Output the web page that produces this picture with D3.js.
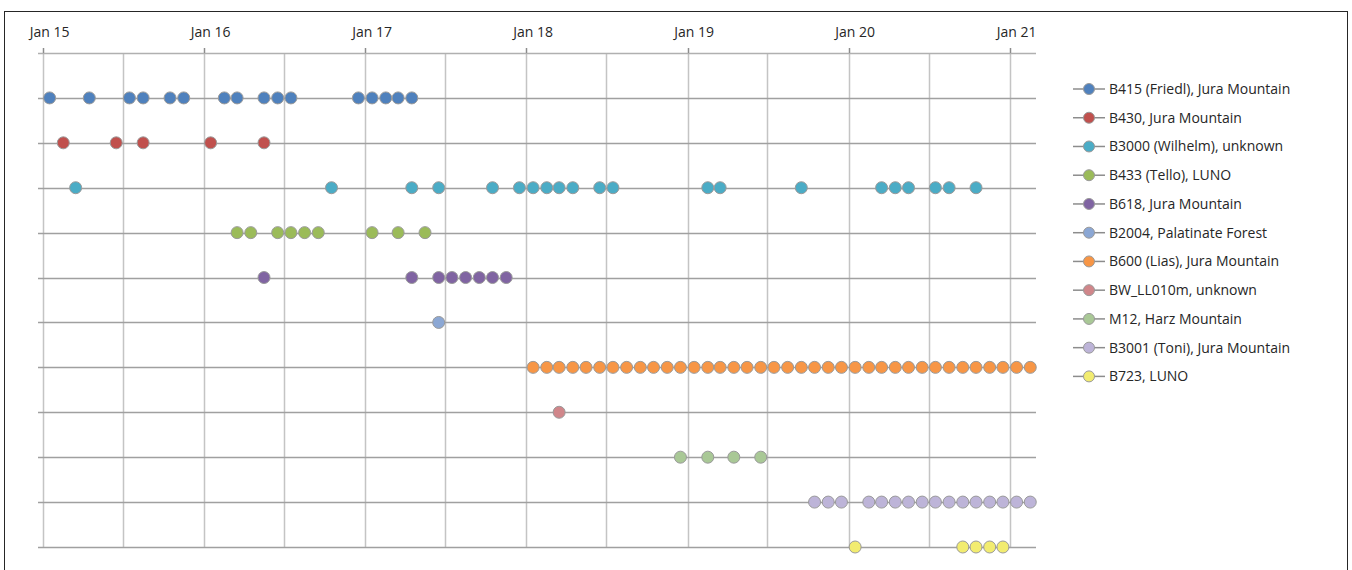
<!DOCTYPE html>
<html lang="en">
<head>
    <meta charset="UTF-8">
    <title>Sampling timeline</title>
    <style>
        body { margin:0; background:#fff; }
        text { font-family: 'Open Sans', 'Lato', sans-serif; fill:#262626; }
        .tick_label { font-size:14px; }
        .legend_label { font-size:14px; }
        .frame { fill:none; stroke:#262626; stroke-width:1px; }
    </style>
    <script src="https://d3js.org/d3.v7.min.js"></script>
</head>
<body>

<script>

// series names, top row first
var series_names = [
    "B415 (Friedl), Jura Mountain",
    "B430, Jura Mountain",
    "B3000 (Wilhelm), unknown",
    "B433 (Tello), LUNO",
    "B618, Jura Mountain",
    "B2004, Palatinate Forest",
    "B600 (Lias), Jura Mountain",
    "BW_LL010m, unknown",
    "M12, Harz Mountain",
    "B3001 (Toni), Jura Mountain",
    "B723, LUNO"
];

var series_colors = ["#4f81bd", "#c0504d", "#4bacc6", "#9bbb59", "#8064a2", "#8ba7d4",
                     "#f79646", "#d0868a", "#a9c896", "#bdb4d8", "#f2ec70"];

// sampled months per series
var b415 = ["2015-01","2015-04","2015-07","2015-08","2015-10","2015-11","2016-02","2016-03","2016-05","2016-06",
            "2016-07","2016-12","2017-01","2017-02","2017-03","2017-04"];
var b430 = ["2015-02","2015-06","2015-08","2016-01","2016-05"];
var b3000 = ["2015-03","2016-10","2017-04","2017-06","2017-10","2017-12","2018-01","2018-02","2018-03","2018-04",
             "2018-06","2018-07","2019-02","2019-03","2019-09","2020-03","2020-04","2020-05","2020-07","2020-08","2020-10"];
var b433 = ["2016-03","2016-04","2016-06","2016-07","2016-08","2016-09","2017-01","2017-03","2017-05"];
var b618 = ["2016-05","2017-04","2017-06","2017-07","2017-08","2017-09","2017-10","2017-11"];
var b2004 = ["2017-06"];
var b600 = ["2018-01","2018-02","2018-03","2018-04","2018-05","2018-06","2018-07","2018-08","2018-09","2018-10","2018-11","2018-12",
            "2019-01","2019-02","2019-03","2019-04","2019-05","2019-06","2019-07","2019-08","2019-09","2019-10","2019-11","2019-12",
            "2020-01","2020-02","2020-03","2020-04","2020-05","2020-06","2020-07","2020-08","2020-09","2020-10","2020-11","2020-12",
            "2021-01","2021-02"];
var bw_ll010m = ["2018-03"];
var m12 = ["2018-12","2019-02","2019-04","2019-06"];
var b3001 = ["2019-10","2019-11","2019-12","2020-02","2020-03","2020-04","2020-05","2020-06","2020-07","2020-08",
             "2020-09","2020-10","2020-11","2020-12","2021-01","2021-02"];
var b723 = ["2020-01","2020-09","2020-10","2020-11","2020-12"];

var series_months = [b415, b430, b3000, b433, b618, b2004, b600, bw_ll010m, m12, b3001, b723];

var axis_start = "2015-01";
var axis_end = "2021-03";

var window_width = 1352;
var window_height = 570;

var parseMonth = d3.timeParse("%Y-%m");
// a month is drawn in the middle of its slot
function midMonth(s) {
    var d = parseMonth(s);
    return new Date(d.getFullYear(), d.getMonth(), 16);
}

var svg = d3.select("body").append("svg").attr("width", window_width).attr("height", window_height);

svg.append("rect").attr("class", "frame")
   .attr("x", 4.5).attr("y", 11.5).attr("width", 1343).attr("height", 580);

var xScale = d3.scaleTime().domain([parseMonth(axis_start), parseMonth(axis_end)]).range([43, 1036]);
var yScale = d3.scaleLinear().domain([-1, series_names.length - 1]).range([53, 547]);

var grid = svg.append("g");

// vertical grid every six months
var half_years = d3.timeMonth.every(6).range(parseMonth(axis_start), parseMonth(axis_end));
grid.selectAll("line.vgrid").data(half_years).enter().append("line")
    .attr("x1", function(d){ return Math.round(xScale(d)) + 0.5; })
    .attr("x2", function(d){ return Math.round(xScale(d)) + 0.5; })
    .attr("y1", yScale(-1)).attr("y2", yScale(series_names.length - 1))
    .style("stroke", "#c4c4c4").style("stroke-width", 1.5);

// horizontal grid, one line per row plus top line
var rows = d3.range(-1, series_names.length);
grid.selectAll("line.hgrid").data(rows).enter().append("line")
    .attr("x1", 38).attr("x2", 1036)
    .attr("y1", function(d){ return Math.round(yScale(d)) + 0.5; })
    .attr("y2", function(d){ return Math.round(yScale(d)) + 0.5; })
    .style("stroke", function(d){ return d < 0 ? "#b0b0b0" : "#a0a0a0"; }).style("stroke-width", 1.5);

// yearly ticks and labels on top
var years = d3.timeYear.every(1).range(parseMonth(axis_start), parseMonth(axis_end));
grid.selectAll("line.xtick").data(years).enter().append("line")
    .attr("x1", function(d){ return Math.round(xScale(d)) + 0.5; })
    .attr("x2", function(d){ return Math.round(xScale(d)) + 0.5; })
    .attr("y1", 48).attr("y2", 53)
    .style("stroke", "#8c8c8c").style("stroke-width", 1.5);

var fmt = d3.timeFormat("%b %y");
svg.selectAll("text.tick_label").data(years).enter().append("text")
   .attr("class", "tick_label")
   .attr("x", function(d){ return xScale(new Date(d.getFullYear(), 0, 16)); })
   .attr("y", 37)
   .attr("text-anchor", "middle")
   .text(function(d){ return fmt(d); });

// series: connecting line + markers
var line = d3.line()
    .x(function(p){ return xScale(midMonth(p.m)); })
    .y(function(p){ return Math.round(yScale(p.i)) + 0.5; });

var plot = svg.append("g");
series_months.forEach(function(months, i) {
    var pts = months.map(function(m){ return {m:m, i:i}; });
    plot.append("path").datum(pts).attr("d", line)
        .style("fill", "none").style("stroke", "#a0a0a0").style("stroke-width", 1);
    plot.selectAll("circle.s" + i).data(pts).enter().append("circle")
        .attr("class", "s" + i)
        .attr("r", 6)
        .attr("cx", function(p){ return xScale(midMonth(p.m)); })
        .attr("cy", function(p){ return yScale(p.i); })
        .style("fill", series_colors[i])
        .style("stroke", "#9a9a9a").style("stroke-width", 1);
});

// legend
var legend = svg.append("g").attr("transform", "translate(1073,89)");
var items = legend.selectAll("g").data(series_names).enter().append("g")
    .attr("transform", function(d, i){ return "translate(0," + (i * 28.74) + ")"; });
items.append("line").attr("x1", 0).attr("x2", 32).attr("y1", 0).attr("y2", 0)
    .style("stroke", "#8c8c8c").style("stroke-width", 1.5);
items.append("circle").attr("cx", 16).attr("cy", 0).attr("r", 5.5)
    .style("fill", function(d, i){ return series_colors[i]; })
    .style("stroke", "#9a9a9a").style("stroke-width", 1);
items.append("text").attr("class", "legend_label")
    .attr("x", 36).attr("y", 0).attr("dy", "0.35em")
    .text(function(d){ return d; });

</script>

</body>
</html>
